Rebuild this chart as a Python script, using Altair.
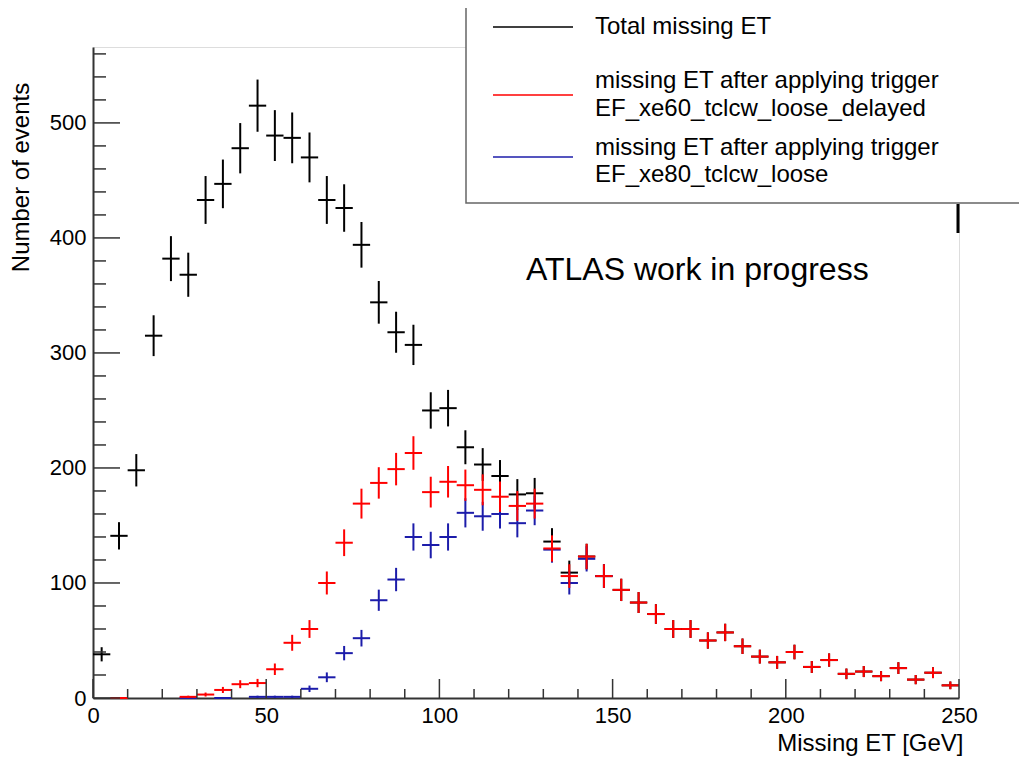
import altair as alt
import pandas as pd
import numpy as np

# ---------------- data ----------------
bin_centers = [2.5, 7.5, 12.5, 17.5, 22.5, 27.5, 32.5, 37.5, 42.5, 47.5,
               52.5, 57.5, 62.5, 67.5, 72.5, 77.5, 82.5, 87.5, 92.5, 97.5,
               102.5, 107.5, 112.5, 117.5, 122.5, 127.5, 132.5, 137.5, 142.5, 147.5,
               152.5, 157.5, 162.5, 167.5, 172.5, 177.5, 182.5, 187.5, 192.5, 197.5,
               202.5, 207.5, 212.5, 217.5, 222.5, 227.5, 232.5, 237.5, 242.5, 247.5]
bin_width = 5

total_met = [38, 141, 198, 315, 382, 368, 433, 447, 478, 515,
             489, 487, 470, 433, 426, 394, 344, 318, 307, 250,
             252, 218, 203, 193, 177, 178, 136, 109, 123, 106,
             94, 83, 73, 60, 60, 50, 57, 45, 36, 31,
             40, 27, 33, 21, 23, 19, 26, 16, 22, 11]

met_xe60 = [None, 0, None, None, None, 1, 3, 7, 12, 13,
            25, 48, 60, 100, 135, 169, 187, 199, 213, 179,
            188, 185, 181, 175, 167, 169, 130, 106, 123, 106,
            94, 83, 73, 60, 60, 50, 57, 45, 36, 31,
            40, 27, 33, 21, 23, 19, 26, 16, 22, 11]

met_xe80 = [None, None, None, None, None, 0, None, 0, None, 1,
            1, 1, 8, 18, 39, 52, 85, 103, 140, 133,
            140, 161, 158, 160, 152, 163, 129, 100, 121, 106,
            None, None, None, None, None, None, None, None, None, None,
            None, None, None, None, None, None, None, None, None, None]

series_keys = ["total", "xe60", "xe80"]
series_colors = ["#000000", "#ff0000", "#1c1caa"]
legend_labels = [["Total missing ET"],
                 ["missing ET after applying trigger", "EF_xe60_tclcw_loose_delayed"],
                 ["missing ET after applying trigger", "EF_xe80_tclcw_loose"]]

x_major = [0, 50, 100, 150, 200, 250]
x_minor = [10, 20, 30, 40, 60, 70, 80, 90, 110, 120, 130, 140,
           160, 170, 180, 190, 210, 220, 230, 240]
y_major = [0, 100, 200, 300, 400, 500]
y_minor = [20, 40, 60, 80, 120, 140, 160, 180, 220, 240, 260, 280,
           320, 340, 360, 380, 420, 440, 460, 480, 520, 540, 560]

x_title = "Missing ET [GeV]"
y_title = "Number of events"
note_text = "ATLAS work in progress"

# ---------------- build table of error-bar segments ----------------
series_values = {"total": total_met, "xe60": met_xe60, "xe80": met_xe80}
rows = []
for key in ["total", "xe80", "xe60"]:  # draw order
    for c, v in zip(bin_centers, series_values[key]):
        if v is None:
            continue
        e = float(np.sqrt(v))
        rows.append(dict(series=key, xa=c - bin_width / 2, xb=c + bin_width / 2, ya=v, yb=v))
        if e > 0:
            rows.append(dict(series=key, xa=c, xb=c, ya=v - e, yb=v + e))
seg = pd.DataFrame(rows)

W, H = 866, 651
xs = alt.Scale(domain=[0, 250], nice=False, zero=False)
ys = alt.Scale(domain=[0, 566], nice=False, zero=False)
FONT = "Liberation Sans"

x_axis = alt.Axis(values=x_major, ticks=False, tickSize=0, labelPadding=7, labelFontSize=22,
                  labelFlush=False, labelColor="#000", labelFont=FONT, grid=False,
                  domainColor="#333", domainWidth=2, title=x_title, titleFontSize=24,
                  titleFont=FONT, titleFontWeight="normal", titleColor="#000",
                  titleX=870, titleY=45, titleAlign="right", titleBaseline="middle",
                  format="d")
y_axis = alt.Axis(values=y_major, ticks=False, tickSize=0, labelPadding=7, labelFontSize=22,
                  labelColor="#000", labelFont=FONT, grid=False, domainColor="#333",
                  domainWidth=2, title=y_title, titleFontSize=24, titleFont=FONT,
                  titleFontWeight="normal", titleColor="#000", titleAngle=270,
                  titleX=-72, titleY=130, titleAlign="center", titleBaseline="middle",
                  format="d")

bars = alt.Chart(seg).mark_rule(strokeWidth=2).encode(
    x=alt.X("xa:Q", scale=xs, axis=x_axis),
    x2="xb:Q",
    y=alt.Y("ya:Q", scale=ys, axis=y_axis),
    y2="yb:Q",
    color=alt.Color("series:N", scale=alt.Scale(domain=series_keys, range=series_colors), legend=None),
)

tick_col = "#333"
ymaj = alt.Chart(pd.DataFrame({"v": y_major})).mark_rule(color=tick_col, strokeWidth=1.5).encode(
    y=alt.Y("v:Q", scale=ys, axis=y_axis), x=alt.value(0), x2=alt.value(27))
ymin = alt.Chart(pd.DataFrame({"v": y_minor})).mark_rule(color=tick_col, strokeWidth=1.5).encode(
    y=alt.Y("v:Q", scale=ys, axis=y_axis), x=alt.value(0), x2=alt.value(13))
xmaj = alt.Chart(pd.DataFrame({"v": x_major})).mark_rule(color=tick_col, strokeWidth=1.5).encode(
    x=alt.X("v:Q", scale=xs, axis=x_axis), y=alt.value(H), y2=alt.value(H - 19))
xmin = alt.Chart(pd.DataFrame({"v": x_minor})).mark_rule(color=tick_col, strokeWidth=1.5).encode(
    x=alt.X("v:Q", scale=xs, axis=x_axis), y=alt.value(H), y2=alt.value(H - 9))

note = alt.Chart(pd.DataFrame({"t": [note_text]})).mark_text(
    align="left", baseline="middle", fontSize=32, font=FONT, color="#000").encode(
    x=alt.value(433), y=alt.value(223), text="t:N")

# legend box
one = pd.DataFrame({"a": [0]})
leg_box = alt.Chart(one).mark_rect(fill="white", stroke="#666", strokeWidth=1.5).encode(
    x=alt.value(373), x2=alt.value(960), y=alt.value(-50), y2=alt.value(156))
leg_line_y = [-20, 48, 110]
leg_lines = alt.Chart(pd.DataFrame({"c": series_colors, "py": leg_line_y})).mark_rule(strokeWidth=1.3).encode(
    x=alt.value(400), x2=alt.value(480), y=alt.Y("py:Q", scale=None), color=alt.Color("c:N", scale=None))
text_rows = []
text_y = [[-20], [34, 62], [101, 128]]
for labs, ys_ in zip(legend_labels, text_y):
    for t, py in zip(labs, ys_):
        text_rows.append(dict(t=t, py=py))
leg_text = alt.Chart(pd.DataFrame(text_rows)).mark_text(
    align="left", baseline="middle", fontSize=24, font=FONT, color="#000").encode(
    x=alt.value(502), y=alt.Y("py:Q", scale=None), text="t:N")

mark_piece = alt.Chart(one).mark_rule(color="#000", strokeWidth=3).encode(
    x=alt.value(W - 1), y=alt.value(157), y2=alt.value(186))

chart = alt.layer(bars, ymaj, ymin, xmaj, xmin, note, leg_box, leg_lines, leg_text, mark_piece).properties(
    width=W, height=H,
    padding={"left": 85, "top": 39, "right": 60, "bottom": 60},
    autosize=alt.AutoSizeParams(type="none"),
).configure_view(stroke="#444", strokeWidth=2).configure(font=FONT)

chart.save("out.html", embed_options={"renderer": "svg", "actions": False})
